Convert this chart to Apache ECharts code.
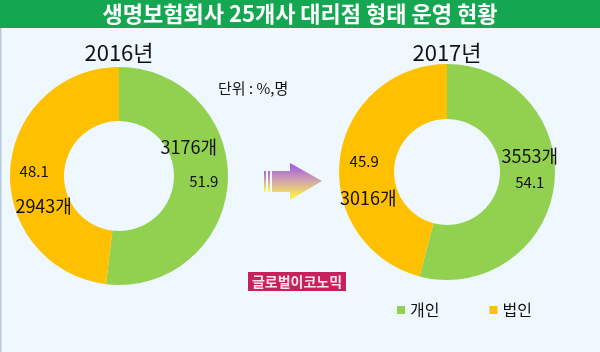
<!DOCTYPE html>
<html><head><meta charset="utf-8">
<script src="https://cdn.jsdelivr.net/npm/echarts@6/dist/echarts.min.js"></script>
<style>html,body{margin:0;padding:0;background:#f0f8ff}#c{width:600px;height:352px}</style>
</head><body><div id="c"></div>
<script>
const titleText = '생명보험회사 25개사 대리점 형태 운영 현황';
const years = ['2016년', '2017년'];
const categories = ['개인', '법인'];
const share2016 = [51.9, 48.1];
const share2017 = [54.1, 45.9];
const count2016 = [3176, 2943];
const count2017 = [3553, 3016];
const unitText = '단위 : %,명';
const logoText = '글로벌이코노믹';

const FONT = '"Noto Sans CJK KR", "Noto Sans", sans-serif';
const colors = ['#92d050', '#ffc000'];

// layout per year: count label offset (line height, horizontal padding)
const layout = [
  { center: [119, 176], radius: [55, 109], countLH: [48, 50], countPad: [[0, 30, 0, 0], [0, 0, 0, 19]] },
  { center: [447, 172], radius: [53, 108], countLH: [34, 54], countPad: [[0, 0, 0, 0], [0, 0, 0, 8]] }
];
const shares = [share2016, share2017];
const counts = [count2016, count2017];

const series = layout.map((L, yi) => ({
  type: 'pie', name: years[yi], center: L.center, radius: L.radius,
  startAngle: 90, clockwise: true, silent: true, animation: false,
  labelLine: { show: false },
  data: categories.map((c, i) => {
    const pct = shares[yi][i].toFixed(1);
    const cnt = counts[yi][i] + '개';
    const text = i === 0 ? `{c|${cnt}}\n{p|${pct}}\n{e| }` : `{e| }\n{p|${pct}}\n{c|${cnt}}`;
    return {
      name: c, value: shares[yi][i], itemStyle: { color: colors[i] },
      label: {
        show: true, position: 'inside', formatter: text, color: '#111', fontFamily: FONT,
        rich: {
          c: { fontSize: 18, lineHeight: L.countLH[i], padding: L.countPad[i], color: '#111', fontFamily: FONT },
          p: { fontSize: 15, lineHeight: 20, color: '#111', fontFamily: FONT },
          e: { fontSize: 10, lineHeight: L.countLH[i] }
        }
      }
    };
  })
}));

const chart = echarts.init(document.getElementById('c'), null, { renderer: 'canvas' });
chart.setOption({
  backgroundColor: '#f0f8ff',
  animation: false,
  color: colors,
  legend: {
    data: categories, left: 392, top: 297, icon: 'rect', itemWidth: 8, itemHeight: 8,
    itemGap: 50, textStyle: { fontSize: 16, color: '#111', fontFamily: FONT }
  },
  graphic: [
    { type: 'rect', left: 0, top: 0, shape: { width: 600, height: 28 }, style: { fill: '#14a650' }, z: 1 },
    { type: 'text', x: 300, y: 14, style: { text: titleText, fill: '#fff', font: 'bold 22px ' + FONT, align: 'center', verticalAlign: 'middle' }, z: 2 },
    { type: 'rect', left: 0, top: 28, shape: { width: 1.5, height: 324 }, style: { fill: '#b8c8dc' } },
    { type: 'text', x: layout[0].center[0], y: 53, style: { text: years[0], fill: '#111', font: '22px ' + FONT, align: 'center', verticalAlign: 'middle' } },
    { type: 'text', x: layout[1].center[0], y: 53, style: { text: years[1], fill: '#111', font: '22px ' + FONT, align: 'center', verticalAlign: 'middle' } },
    { type: 'text', x: 218, y: 88, style: { text: unitText, fill: '#111', font: '15px ' + FONT, verticalAlign: 'middle' } },
    // arrow
    { type: 'group', children: [
      { type: 'rect', shape: { x: 264, y: 171, width: 2, height: 21 }, style: { fill: new echarts.graphic.LinearGradient(0, 0, 0, 1, [{ offset: 0, color: '#a463e6' }, { offset: 1, color: '#ffff3c' }]) } },
      { type: 'rect', shape: { x: 268, y: 171, width: 2, height: 21 }, style: { fill: new echarts.graphic.LinearGradient(0, 0, 0, 1, [{ offset: 0, color: '#a463e6' }, { offset: 1, color: '#ffff3c' }]) } },
      { type: 'polygon', shape: { points: [[272, 171], [290, 171], [290, 163], [322, 181], [290, 200], [290, 192], [272, 192]] },
        style: { fill: new echarts.graphic.LinearGradient(0, 0, 0, 1, [{ offset: 0, color: '#9a55ec' }, { offset: 0.55, color: '#d9b0a0' }, { offset: 1, color: '#ffff30' }]) } }
    ] },
    // logo
    { type: 'rect', shape: { x: 248, y: 272, width: 98, height: 19 }, style: { fill: '#c6215a' } },
    { type: 'text', x: 297, y: 282, style: { text: logoText, fill: '#fbe4ec', font: 'bold 14px ' + FONT, align: 'center', verticalAlign: 'middle' } }
  ],
  series: series
});
</script></body></html>
